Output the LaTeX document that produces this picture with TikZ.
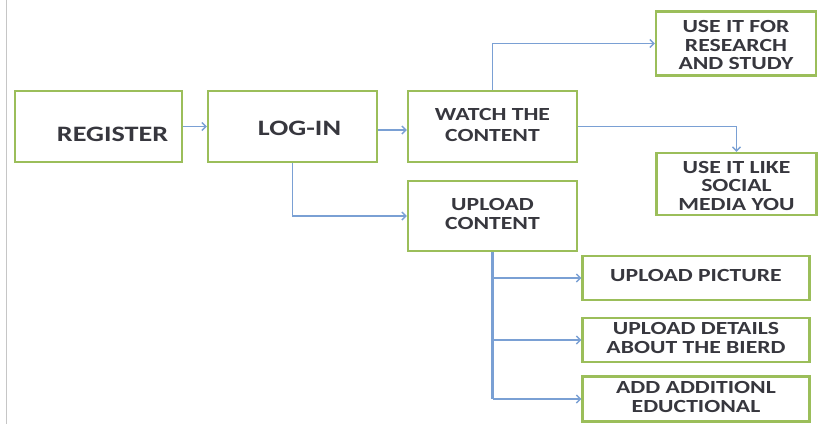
\documentclass[tikz,border=0pt]{standalone}
\usepackage{fontspec}
\setmainfont{Carlito}
\usepackage{graphicx}
\usetikzlibrary{positioning,arrows.meta}

\definecolor{boxgreen}{RGB}{155,190,90}
\definecolor{linkblue}{RGB}{122,160,212}
\definecolor{txtgray}{RGB}{55,55,62}
\newcommand{\boxtext}[1]{\scalebox{1.28}[1]{\begin{tabular}{@{}c@{}}#1\end{tabular}}}

\begin{document}
\begin{tikzpicture}[x=1pt, y=-1pt,
    box/.style={draw=boxgreen, line width=2.2pt, fill=white, inner sep=0pt,
        font=\bfseries\fontsize{18.5}{19}\selectfont, text=txtgray},
    bigtxt/.style={font=\bfseries\fontsize{22}{24}\selectfont, text=txtgray},
    smalltxt/.style={font=\bfseries\fontsize{18.5}{18.5}\selectfont, text=txtgray},
    link/.style={draw=linkblue, line width=1.4pt, -{Straight Barb[length=4pt,width=8pt]}},
    trunk/.style={draw=linkblue, line width=2.4pt}]
    \useasboundingbox (0,0) rectangle (820,424);
    \draw[gray!45, line width=1.5pt] (6.5,0) -- (6.5,424);

    % first row
    \node[box, minimum width=167pt, minimum height=71pt,
        label={[bigtxt, xshift=14pt, yshift=-10pt]center:\boxtext{REGISTER}}] (reg) at (98.5,126.5) {};
    \node[box, minimum width=169pt, minimum height=71pt,
        label={[bigtxt, xshift=7pt, yshift=-4pt]center:\boxtext{LOG-IN}}] (login) at (292.5,126.5) {};
    \node[box, minimum width=169pt, minimum height=71pt,
        font=\bfseries\fontsize{18.5}{21}\selectfont] (watch) at (492.5,126.5) {\boxtext{WATCH THE\\CONTENT}};
    \node[box, minimum width=169pt, minimum height=70pt] (upload) at (492.5,216) {\boxtext{UPLOAD\\CONTENT}};

    % right column
    \node[box, minimum width=160pt, minimum height=64pt,
        label={[smalltxt, yshift=-4pt]center:\boxtext{USE IT FOR\\RESEARCH\\AND STUDY}}] (research) at (736,43.5) {};
    \node[box, minimum width=160pt, minimum height=62pt,
        label={[smalltxt, yshift=-4pt]center:\boxtext{USE IT LIKE\\SOCIAL\\MEDIA YOU}}] (social) at (736.5,184) {};
    \node[box, minimum width=227pt, minimum height=44pt] (picture) at (696,278) {\boxtext{UPLOAD PICTURE}};
    \node[box, minimum width=227pt, minimum height=44pt] (details) at (696,340) {\boxtext{UPLOAD DETAILS\\ABOUT THE BIERD}};
    \node[box, minimum width=227pt, minimum height=45pt] (extra) at (696,399) {\boxtext{ADD ADDITIONL\\EDUCTIONAL}};

    \draw[link] (reg) -- (login);
    \draw[link] ([yshift=-3.5pt]login.east) -- ([yshift=-3.5pt]watch.west);
    \draw[link] (login.south) |- (upload.west);
    \draw[link] (watch.north) |- (research.west);
    \draw[link] (watch.east) -| (social.north);

    \draw[trunk] (upload.south) -- (upload.south |- extra.west);
    \foreach \t in {picture,details,extra}
        \draw[link] (upload.south |- \t.west) -- (\t.west);
\end{tikzpicture}
\end{document}
